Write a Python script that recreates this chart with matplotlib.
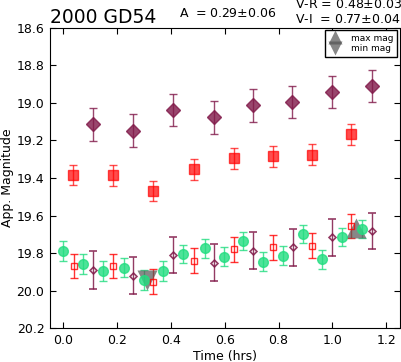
import numpy as np
import matplotlib
matplotlib.use('Agg')
import matplotlib.pyplot as plt

# I band (filled diamonds, offset)
t_i = [0.111, 0.259, 0.407, 0.559, 0.704, 0.852, 1.000, 1.146]
m_i = [19.114, 19.148, 19.038, 19.077, 19.013, 18.995, 18.942, 18.910]
e_i = [0.087, 0.087, 0.087, 0.087, 0.087, 0.087, 0.087, 0.085]
# R band (filled squares, offset)
t_r = [0.037, 0.185, 0.333, 0.485, 0.633, 0.780, 0.926, 1.070]
m_r = [19.384, 19.386, 19.469, 19.354, 19.295, 19.284, 19.276, 19.167]
e_r = [0.055, 0.055, 0.055, 0.055, 0.055, 0.055, 0.055, 0.055]
# V band (circles)
t_v = [0.000, 0.074, 0.148, 0.226, 0.300, 0.370, 0.444, 0.525, 0.596,
       0.669, 0.743, 0.817, 0.891, 0.963, 1.035, 1.111]
m_v = [19.788, 19.859, 19.895, 19.877, 19.943, 19.895, 19.806, 19.774, 19.819,
       19.735, 19.845, 19.813, 19.700, 19.833, 19.712, 19.671]
e_v = [0.053, 0.052, 0.052, 0.050, 0.052, 0.052, 0.048, 0.050, 0.050,
       0.050, 0.050, 0.050, 0.048, 0.052, 0.048, 0.050]
# R band corrected to V (open squares)
t_rc = [0.040, 0.185, 0.333, 0.485, 0.633, 0.780, 0.926, 1.070]
m_rc = [19.867, 19.868, 19.952, 19.840, 19.780, 19.769, 19.760, 19.654]
e_rc = [0.065, 0.065, 0.065, 0.065, 0.065, 0.065, 0.065, 0.065]
# I band corrected to V (open diamonds)
t_ic = [0.111, 0.259, 0.407, 0.559, 0.704, 0.854, 1.000, 1.146]
m_ic = [19.890, 19.920, 19.810, 19.851, 19.787, 19.769, 19.716, 19.682]
e_ic = [0.100, 0.100, 0.097, 0.098, 0.098, 0.098, 0.098, 0.098]
# extrema
t_max, m_max = 1.09, 19.665
t_min, m_min = 0.309, 19.944

purple = '#801848'
red = '#ff0000'
green = '#22dd80'

fig = plt.figure(figsize=(4.01, 3.62), dpi=100)
ax = fig.add_axes([50/401, 1-328.3/362, 349.5/401, 300.6/362])

ax.errorbar(t_i, m_i, yerr=e_i, fmt='D', ms=7.2, color=purple, alpha=0.8,
            mec=purple, capsize=3, elinewidth=1.0)
ax.errorbar(t_r, m_r, yerr=e_r, fmt='s', ms=6.8, color=red, alpha=0.7,
            mec=red, capsize=3, elinewidth=1.0)
ax.errorbar(t_v, m_v, yerr=e_v, fmt='o', ms=7, color=green, alpha=0.8,
            mec=green, capsize=3, elinewidth=1.0)
ax.errorbar(t_rc, m_rc, yerr=e_rc, fmt='s', ms=4, mfc='none', color=red,
            mec=red, alpha=0.8, capsize=3, elinewidth=1.0)
ax.errorbar(t_ic, m_ic, yerr=e_ic, fmt='D', ms=3.5, mfc='none', color=purple,
            mec=purple, alpha=0.85, capsize=3, elinewidth=1.0, mew=1.2)

ax.plot([t_max], [m_max], '^', ms=14, color='#555555', alpha=0.7, mec='none', label='max mag')
ax.plot([t_min], [m_min], 'v', ms=14, color='#555555', alpha=0.7, mec='none', label='min mag')

ax.set_xlim(-0.05, 1.25)
ax.set_ylim(20.2, 18.6)
ax.set_xticks(np.arange(0, 1.21, 0.2))
ax.set_yticks(np.arange(18.6, 20.21, 0.2))
ax.set_xticklabels(['%.1f' % v for v in np.arange(0, 1.21, 0.2)])
ax.set_yticklabels(['%.1f' % v for v in np.arange(18.6, 20.21, 0.2)])
ax.tick_params(direction='in', top=True, right=True, length=4, labelsize=9, pad=4)
ax.set_xlabel('Time (hrs)', fontsize=9, labelpad=2)
ax.set_ylabel('App. Magnitude', fontsize=9, labelpad=2)

leg = ax.legend(loc='upper right', fontsize=6.5, markerscale=0.75, numpoints=1,
                labelspacing=0.15, handlelength=1.5, handletextpad=1.0,
                borderpad=0.4, fancybox=False, framealpha=1, borderaxespad=0.25)
leg.get_frame().set_edgecolor('black')

fig.text(50/401, 1-23.3/362, '2000 GD54', fontsize=13.5)
fig.text(179/401, 1-16.7/362, r'A  = 0.29$\pm$0.06', fontsize=9)
fig.text(295/401, 1-7.5/362, r'V-R = 0.48$\pm$0.03', fontsize=9)
fig.text(295/401, 1-23.3/362, r'V-I  = 0.77$\pm$0.04', fontsize=9)

fig.savefig('out.png', dpi=100)
